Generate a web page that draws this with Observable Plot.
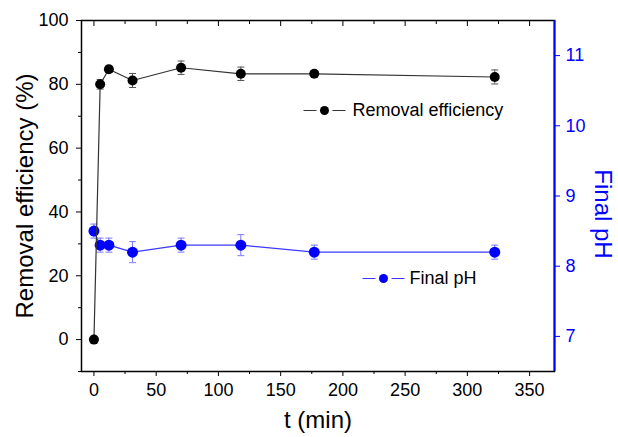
<!DOCTYPE html>
<html><head><meta charset="utf-8">
<script src="https://cdn.jsdelivr.net/npm/d3@7"></script>
<script src="https://cdn.jsdelivr.net/npm/@observablehq/plot@0.6"></script>
<style>body{margin:0;background:#fff;} #chart svg{display:block;}</style>
</head><body><div id="chart"></div>
<script>
// ---- data ----
const times = [0, 5, 12, 31, 70, 118, 177, 322];
const removal = [0, 80, 84.7, 81.2, 85.2, 83.3, 83.3, 82.3];
const removalErr = [0, 1.5, 1, 2.2, 2.1, 2.1, 1, 2.2];
const finalPH = [8.5, 8.3, 8.3, 8.2, 8.3, 8.3, 8.2, 8.2];
const finalPHErr = [0.1, 0.1, 0.1, 0.15, 0.1, 0.15, 0.1, 0.1];

const xTicks = [0, 50, 100, 150, 200, 250, 300, 350];
const xMinor = [25, 75, 125, 175, 225, 275, 325];
const leftTicks = [0, 20, 40, 60, 80, 100];
const leftMinor = [-10, 10, 30, 50, 70, 90];
const rightTicks = [7, 8, 9, 10, 11];

const xDomain = [-10, 370];
const leftDomain = [-10, 100];
const rightDomain = [6.5, 11.5];

const seriesNames = ["Removal efficiency", "Final pH"];
const axisTitles = {x: "t (min)", left: "Removal efficiency (%)", right: "Final pH"};

// map right-axis (pH) values into the left scale
const toLeft = p => leftDomain[0] + (p - rightDomain[0]) * (leftDomain[1] - leftDomain[0]) / (rightDomain[1] - rightDomain[0]);
const fromLeft = v => rightDomain[0] + (v - leftDomain[0]) * (rightDomain[1] - rightDomain[0]) / (leftDomain[1] - leftDomain[0]);

const re = times.map((t, i) => ({t, v: removal[i], lo: removal[i] - removalErr[i], hi: removal[i] + removalErr[i]}));
const ph = times.map((t, i) => ({t, v: toLeft(finalPH[i]), lo: toLeft(finalPH[i] - finalPHErr[i]), hi: toLeft(finalPH[i] + finalPHErr[i])}));

const blue = "#0000ff";
const cap = {draw(ctx) { ctx.moveTo(-3.5, 0); ctx.lineTo(3.5, 0); }};
const legendLine = {draw(ctx) { ctx.moveTo(-21, 0); ctx.lineTo(-8, 0); ctx.moveTo(8, 0); ctx.lineTo(21, 0); }};

const errMarks = (data, color) => [
  Plot.ruleX(data, {x: "t", y1: "lo", y2: "hi", stroke: color, strokeWidth: 1}),
  Plot.dot(data, {x: "t", y: "lo", symbol: cap, stroke: color, fill: "none", strokeWidth: 1}),
  Plot.dot(data, {x: "t", y: "hi", symbol: cap, stroke: color, fill: "none", strokeWidth: 1})
];

const chart = Plot.plot({
  width: 618,
  height: 437,
  marginLeft: 81,
  marginRight: 64,
  marginTop: 20,
  marginBottom: 66,
  style: {fontFamily: "'Liberation Sans', Arial, sans-serif", fontSize: "18px", background: "#fff", color: "#000"},
  x: {domain: xDomain},
  y: {domain: leftDomain},
  marks: [
    // pH series
    Plot.line(ph, {x: "t", y: "v", stroke: "#3a3aff", strokeWidth: 1.2}),
    ...errMarks(ph, "#7a7aff"),
    Plot.dot(ph, {x: "t", y: "v", r: 5.5, fill: blue}),
    // removal efficiency series
    Plot.line(re, {x: "t", y: "v", stroke: "#333", strokeWidth: 1.2}),
    ...errMarks(re, "#555"),
    Plot.dot(re, {x: "t", y: "v", r: 5, fill: "#000"}),
    // axes
    Plot.axisX({anchor: "bottom", ticks: xTicks, tickSize: 5, tickPadding: 7, label: null, fontSize: 18}),
    Plot.axisX({anchor: "bottom", ticks: xMinor, tickSize: 3, tickFormat: () => "", label: null}),
    Plot.axisX({anchor: "top", ticks: xTicks, tickSize: -5, tickFormat: () => "", label: null}),
    Plot.axisX({anchor: "top", ticks: xMinor, tickSize: -3, tickFormat: () => "", label: null}),
    Plot.axisY({anchor: "left", ticks: leftTicks, tickSize: 5, tickPadding: 8, label: null, fontSize: 18}),
    Plot.axisY({anchor: "left", ticks: leftMinor, tickSize: 3, tickFormat: () => "", label: null}),
    Plot.axisY({anchor: "right", ticks: rightTicks.map(toLeft), tickFormat: d => String(Math.round(fromLeft(d))), tickSize: 5, tickPadding: 6, label: null, color: blue, fontSize: 18}),
    Plot.frame({stroke: "#000", strokeWidth: 1.5}),
    Plot.ruleX([xDomain[1]], {stroke: blue, strokeWidth: 2}),
    // axis titles
    Plot.text([axisTitles.x], {text: d => d, frameAnchor: "bottom", lineAnchor: "middle", textAnchor: "middle", dy: 49, fontSize: 24}),
    Plot.text([axisTitles.left], {text: d => d, frameAnchor: "left", lineAnchor: "middle", textAnchor: "middle", dx: -56, rotate: -90, fontSize: 24}),
    Plot.text([axisTitles.right], {text: d => d, frameAnchor: "right", lineAnchor: "middle", textAnchor: "middle", dx: 48, dy: 18, rotate: 90, fontSize: 24, fill: blue}),
    // legend
    Plot.dot([seriesNames[0]], {frameAnchor: "top-left", dx: 243, dy: 90, symbol: legendLine, stroke: "#333", fill: "none", strokeWidth: 1.2}),
    Plot.dot([seriesNames[0]], {frameAnchor: "top-left", dx: 243, dy: 90, r: 4.5, fill: "#000"}),
    Plot.text([seriesNames[0]], {text: d => d, frameAnchor: "top-left", lineAnchor: "middle", dx: 271, dy: 90, textAnchor: "start", fontSize: 18}),
    Plot.dot([seriesNames[1]], {frameAnchor: "top-left", dx: 302, dy: 258, symbol: legendLine, stroke: "#3a3aff", fill: "none", strokeWidth: 1.2}),
    Plot.dot([seriesNames[1]], {frameAnchor: "top-left", dx: 302, dy: 258, r: 4.5, fill: blue}),
    Plot.text([seriesNames[1]], {text: d => d, frameAnchor: "top-left", lineAnchor: "middle", dx: 328, dy: 258, textAnchor: "start", fontSize: 18})
  ]
});
document.getElementById("chart").appendChild(chart);
</script>
</body></html>
